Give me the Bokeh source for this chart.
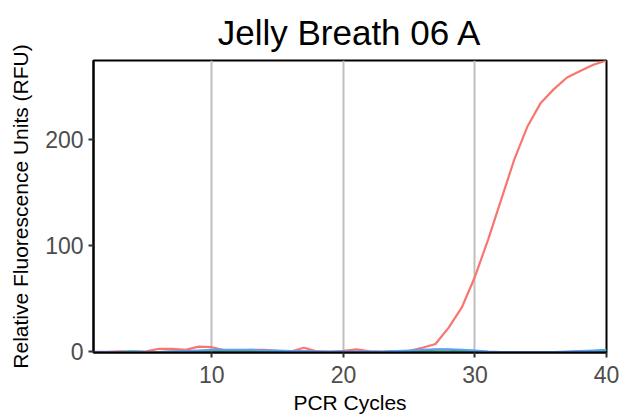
from bokeh.plotting import figure
from bokeh.models import FixedTicker, Range1d
from bokeh.embed import file_html
from bokeh.resources import INLINE

cycles = list(range(1, 41))
red_rfu = [0, 0, 0.5, 0, 0.5, 3, 3, 2, 5, 4.5,
           1.5, 1.5, 2, 2, 1, 0.5, 4, 0.5, 0, 1,
           2.5, 0.5, 0, 0.5, 1, 4, 7.5, 23, 42, 71,
           106, 144, 182, 213, 235, 248, 259, 265, 271, 275]
green_rfu = [0, 0, 0, 0.5, 0, 0, 0.5, 0.5, 1, 1.5,
             1.5, 1.5, 1.5, 1, 1, 0.5, 0.5, 0, 0, 0,
             0, 0, 0, 0.5, 1, 1.5, 2, 2, 1.5, 1,
             0, 0, 0, 0, 0, 0, 0, 0.5, 1, 1.5]
blue_rfu = [0, 0, 0, 0.5, 0, 0, 0.5, 1, 1.5, 2,
            2, 2, 2, 1.5, 1.5, 1, 1, 0.5, 0.5, 0.5,
            0.5, 0.5, 0.5, 1, 1.5, 2, 2.5, 2.5, 2, 1.5,
            0.5, 0, 0, 0, 0, 0, 0.5, 1, 1.5, 2]
x_ticks = [10, 20, 30, 40]
y_ticks = [0, 100, 200]

FONT = "Liberation Sans"

p = figure(width=624, height=418, output_backend="svg", toolbar_location=None,
           title="Jelly Breath 06 A",
           x_range=Range1d(1, 40), y_range=Range1d(-0.5, 275),
           min_border_left=93, min_border_right=18,
           min_border_top=60, min_border_bottom=66)

p.line(cycles, red_rfu, line_color="#F8766D", line_width=2.2)
p.line(cycles, green_rfu, line_color="#00BA38", line_width=2)
p.line(cycles, blue_rfu, line_color="#619CFF", line_width=2)

p.title.text_font = FONT
p.title.text_font_size = "35px"
p.title.text_font_style = "normal"
p.title.text_color = "black"
p.title.align = "center"
p.title.standoff = 18

p.outline_line_color = "black"
p.outline_line_width = 2
p.background_fill_color = "white"
p.border_fill_color = "white"

p.xaxis.ticker = FixedTicker(ticks=x_ticks)
p.yaxis.ticker = FixedTicker(ticks=y_ticks)
p.xgrid.ticker = FixedTicker(ticks=x_ticks)
p.xgrid.grid_line_color = "#BEBEBE"
p.xgrid.grid_line_width = 2
p.ygrid.visible = False

p.xaxis.axis_label = "PCR Cycles"
p.yaxis.axis_label = "Relative Fluorescence Units (RFU)"
for ax in (p.xaxis, p.yaxis):
    ax.axis_line_color = "black"
    ax.axis_line_width = 2
    ax.major_tick_line_color = "#333333"
    ax.major_tick_line_width = 2
    ax.major_tick_in = 0
    ax.major_tick_out = 5
    ax.minor_tick_line_color = None
    ax.major_label_text_font = FONT
    ax.major_label_text_font_size = "23px"
    ax.major_label_text_color = "#4D4D4D"
    ax.axis_label_text_font = FONT
    ax.axis_label_text_font_size = "21px"
    ax.axis_label_text_font_style = "normal"
    ax.axis_label_text_color = "black"
p.xaxis.major_label_standoff = 8
p.yaxis.major_label_standoff = 5
p.xaxis.axis_label_standoff = 5
p.yaxis.axis_label_standoff = 10

open("out.html", "w").write(file_html(p, INLINE))
